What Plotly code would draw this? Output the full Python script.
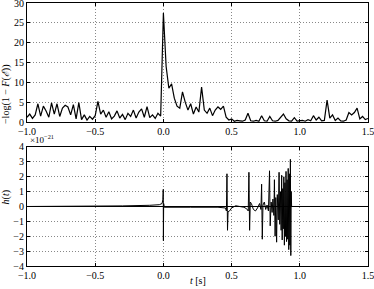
import plotly.graph_objects as go

# top panel: -log(1 - F(E)) sampled every 0.02 s from -1.0 to 1.5
t_start = -1.0
t_step = 0.02
logf_vals = [
    1.2, 2.0, 0.9, 1.8, 4.6, 1.5, 4.0, 2.8, 1.2, 4.8,
    2.0, 4.6, 1.4, 3.5, 4.2, 3.8, 1.8, 4.4, 0.8, 4.9,
    0.6, 1.8, 0.5, 1.4, 0.7, 1.6, 5.2, 2.0, 3.0, 1.2,
    2.6, 0.8, 1.5, 2.8, 1.0, 1.9, 0.6, 2.2, 1.4, 3.0,
    1.0, 2.5, 3.3, 1.2, 3.9, 1.1, 1.8, 0.9, 2.2, 1.5,
    27.5, 14.0, 8.5, 9.6, 6.0, 4.0, 3.5, 7.6, 5.0, 3.0,
    4.6, 2.0, 3.8, 2.5, 8.8, 3.0, 2.2, 3.5, 1.6, 3.0,
    3.8, 3.2, 4.0, 1.2, 0.5, 0.8, 0.2, 0.4, 0.3, 0.2,
    0.5, 2.2, 0.3, 0.2, 0.4, 0.2, 1.6, 0.3, 0.2, 1.4,
    0.3, 0.2, 0.4, 1.2, 2.0, 0.8, 0.3, 0.2, 1.1, 0.2,
    0.3, 0.4, 0.2, 0.6, 0.3, 1.6, 0.5, 1.2, 0.3, 0.4,
    5.5, 1.0, 1.8, 0.4, 1.0, 0.3, 0.2, 0.5, 2.4, 1.8,
    2.4, 3.5, 0.8, 1.4, 0.6, 0.9,
]
logf_t = [round(t_start + t_step*i, 4) for i in range(len(logf_vals))]

# bottom panel: strain h(t) in units of 1e-21
h_t = [-1.0, -0.47, -0.3, -0.1, -0.03, -0.01, -0.004, -0.001, 0.0, 0.002,
       0.006, 0.05, 0.2, 0.4, 0.455, 0.462, 0.466, 0.47, 0.474, 0.485,
       0.5, 0.53, 0.56, 0.59, 0.61, 0.622, 0.627, 0.632, 0.637, 0.645,
       0.66, 0.675, 0.69, 0.705, 0.715, 0.72, 0.725, 0.73, 0.74, 0.75,
       0.76, 0.77, 0.778, 0.783, 0.79, 0.797, 0.803, 0.81, 0.814, 0.819,
       0.824, 0.83, 0.835, 0.842, 0.848, 0.853, 0.858, 0.863, 0.867, 0.871,
       0.875, 0.879, 0.883, 0.887, 0.891, 0.895, 0.899, 0.903, 0.907, 0.911,
       0.915, 0.919, 0.923, 0.927, 0.931, 0.934, 0.937, 0.94, 1.5]
h_vals = [0.0, 0.0, 0.04, 0.08, 0.12, 0.2, 0.45, 1.15, -2.3, 0.2,
          -0.05, -0.06, -0.05, -0.05, -0.1, -0.3, 2.2, -1.6, -0.35, -0.3,
          -0.1, 0.05, 0.02, -0.05, -0.15, -0.3, 2.3, -1.6, 0.3, 0.2,
          -0.2, -0.3, -0.1, 0.2, -0.2, 1.5, -2.2, 0.1, 0.3, -0.2,
          0.1, -0.3, 2.4, -1.3, 0.3, -0.4, 0.5, -0.6, 1.8, -2.0,
          0.6, -2.4, 0.8, -0.9, 2.3, -1.2, 1.0, -1.6, 2.1, -2.25,
          1.2, -1.5, 2.0, -2.6, 1.6, -2.0, 2.36, -2.36, 1.8, -2.2,
          2.56, -2.9, 2.2, -2.6, 3.17, -3.3, 1.0, 0.0, 0.0]

x_ticks = [-1.0, -0.5, 0.0, 0.5, 1.0, 1.5]
font = dict(family="Liberation Serif", size=10, color="black")

fig = go.Figure()
fig.add_trace(go.Scatter(x=logf_t, y=logf_vals, mode="lines",
                         line=dict(color="black", width=1.2), xaxis="x", yaxis="y"))
fig.add_trace(go.Scatter(x=h_t, y=h_vals, mode="lines",
                         line=dict(color="black", width=1.0), xaxis="x2", yaxis="y2"))

ax = dict(showline=True, linecolor="black", linewidth=1, mirror="ticks",
          ticks="inside", ticklen=3, tickcolor="black", automargin=False,
          showgrid=True, gridcolor="#888", griddash="1px,2px", gridwidth=1,
          zeroline=False, tickfont=font, ticklabeloverflow="allow")

fig.update_layout(
    width=374, height=289,
    margin=dict(l=27, r=6, t=3, b=23),
    paper_bgcolor="white", plot_bgcolor="white",
    showlegend=False, font=font,
    xaxis=dict(ax, domain=[0, 1], range=[-1, 1.5], tickvals=x_ticks,
               tickformat=".1f", anchor="y"),
    yaxis=dict(ax, domain=[0.5475, 1], range=[0, 30], dtick=5, anchor="x"),
    xaxis2=dict(ax, domain=[0, 1], range=[-1, 1.5], tickvals=x_ticks,
                tickformat=".1f", anchor="y2"),
    yaxis2=dict(ax, domain=[0, 0.4525], range=[-4, 4], dtick=1, anchor="x2",
                zeroline=True, zerolinecolor="black", zerolinewidth=1.2),
)

fig.add_annotation(text="−log(1 − <i>F</i>(<i>ℰ</i>))", textangle=-90,
                   xref="paper", yref="paper", x=-0.062, y=0.775,
                   xanchor="center", showarrow=False, font=font)
fig.add_annotation(text="<i>h</i>(<i>t</i>)", textangle=-90,
                   xref="paper", yref="paper", x=-0.062, y=0.226,
                   xanchor="center", showarrow=False, font=font)
fig.add_annotation(text="×10<sup>−21</sup>", xref="paper", yref="paper",
                   x=0.003, y=0.4525, xanchor="left", yanchor="bottom",
                   showarrow=False, font=dict(font, size=9))
fig.add_annotation(text="<i>t</i> [s]", xref="paper", yref="paper",
                   x=0.5, y=-0.085, xanchor="center", yanchor="bottom",
                   showarrow=False, font=font)

# the page's default body margin would push the fixed-size plot off the window
fig.write_html("out.html", config={"displayModeBar": False},
               post_script="document.body.style.margin='0px';")
